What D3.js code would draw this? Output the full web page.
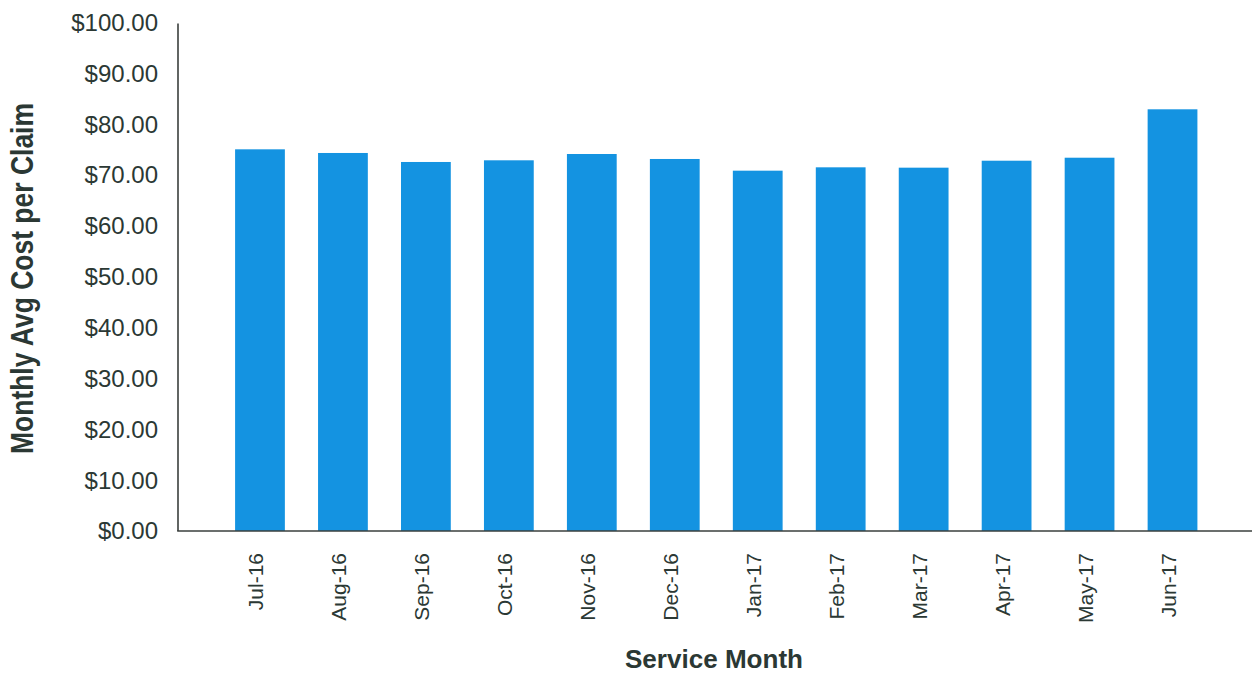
<!DOCTYPE html>
<html>
<head>
<meta charset="utf-8">
<script src="https://cdn.jsdelivr.net/npm/d3@7"></script>
<style>
  html, body { margin: 0; padding: 0; background: #fff; }
  svg { display: block; }
  text { font-family: "Liberation Sans", Arial, sans-serif; fill: #2b3834; }
</style>
</head>
<body>
<svg id="chart" width="1252" height="673"></svg>
<script>
const months = ["Jul-16","Aug-16","Sep-16","Oct-16","Nov-16","Dec-16","Jan-17","Feb-17","Mar-17","Apr-17","May-17","Jun-17"];
const avgCost = [75.06, 74.34, 72.57, 72.90, 74.14, 73.16, 70.86, 71.52, 71.45, 72.82, 73.41, 82.93];
const yTicks = [0, 10, 20, 30, 40, 50, 60, 70, 80, 90, 100];
const yTitle = "Monthly Avg Cost per Claim";
const xTitle = "Service Month";

const svg = d3.select("#chart");
const axisX0 = 178, axisX1 = 1252;

const x = d3.scaleBand().domain(months).range([218.5, 1214]).paddingInner(0.4).paddingOuter(0.2);
const y = d3.scaleLinear().domain([0, 100]).range([531, 22.5]);

// bars
svg.append("g").selectAll("rect").data(months).join("rect")
  .attr("x", d => x(d))
  .attr("y", (d, i) => y(avgCost[i]))
  .attr("width", x.bandwidth())
  .attr("height", (d, i) => y(0) - y(avgCost[i]))
  .attr("fill", "#1493e1");

// y axis
const yAxis = d3.axisLeft(y).tickValues(yTicks).tickSize(0).tickPadding(20)
  .tickFormat(d => "$" + d3.format(".2f")(d));
const gy = svg.append("g").attr("transform", `translate(${axisX0},0)`).call(yAxis);
gy.select(".domain").remove();
gy.selectAll("text").attr("font-size", 24).attr("fill", "#2b3834").attr("dy", "0.33em")
  .style("font-family", '"Liberation Sans", Arial, sans-serif');
svg.append("line").attr("x1", axisX0).attr("x2", axisX0).attr("y1", y(100) + 1).attr("y2", y(0))
  .attr("stroke", "#3a3f3d").attr("stroke-width", 1.6);

// x axis
const xAxis = d3.axisBottom(x).tickSize(0).tickPadding(0);
const gx = svg.append("g").attr("transform", `translate(0,${y(0)})`).call(xAxis);
gx.select(".domain").remove();
gx.selectAll("text")
  .attr("font-size", 21)
  .attr("fill", "#2b3834")
  .style("font-family", '"Liberation Sans", Arial, sans-serif')
  .attr("text-anchor", "end")
  .attr("transform", "rotate(-90)")
  .attr("x", -22)
  .attr("y", 0)
  .attr("dy", "0.16em");
svg.append("line").attr("x1", axisX0 - 0.8).attr("x2", axisX1).attr("y1", y(0)).attr("y2", y(0))
  .attr("stroke", "#3a3f3d").attr("stroke-width", 1.6);

// titles
svg.append("text")
  .attr("transform", "translate(33,278.5) rotate(-90)")
  .attr("text-anchor", "middle")
  .attr("font-size", 31)
  .attr("font-weight", "bold")
  .attr("textLength", 351)
  .attr("lengthAdjust", "spacingAndGlyphs")
  .text(yTitle);

svg.append("text")
  .attr("x", 714)
  .attr("y", 668)
  .attr("text-anchor", "middle")
  .attr("font-size", 25)
  .attr("font-weight", "bold")
  .attr("textLength", 178)
  .attr("lengthAdjust", "spacingAndGlyphs")
  .text(xTitle);
</script>
</body>
</html>
